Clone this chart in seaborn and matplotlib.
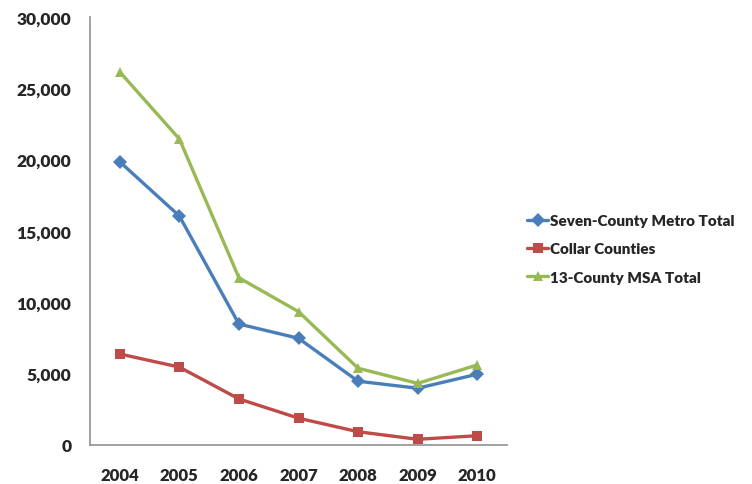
import matplotlib
matplotlib.use("Agg")
import matplotlib.pyplot as plt
import seaborn as sns
import pandas as pd
from matplotlib.ticker import FuncFormatter

years = [2004, 2005, 2006, 2007, 2008, 2009, 2010]
seven_county = [19850, 16050, 8480, 7480, 4470, 3980, 4960]
collar = [6380, 5460, 3230, 1880, 930, 400, 650]
msa_total = [26150, 21450, 11720, 9350, 5380, 4320, 5610]
series_names = ["Seven-County Metro Total", "Collar Counties", "13-County MSA Total"]

df = pd.concat([
    pd.DataFrame({"Year": years, "Value": vals, "Series": name})
    for name, vals in zip(series_names, [seven_county, collar, msa_total])
])

sns.set_theme(style="white")
plt.rcParams["font.family"] = ["Lato", "DejaVu Sans"]

palette = {series_names[0]: "#4A7EBB", series_names[1]: "#BE4B48", series_names[2]: "#98B954"}
markers = {series_names[0]: "D", series_names[1]: "s", series_names[2]: "^"}

fig = plt.figure(figsize=(7.52, 4.85), dpi=100)
ax = fig.add_axes([90 / 752, 39 / 485, 417 / 752, 428 / 485])

sns.lineplot(data=df, x="Year", y="Value", hue="Series", style="Series",
             palette=palette, markers=markers, dashes=False, linewidth=2.4,
             markersize=7, markeredgewidth=0, ax=ax)

ax.set_xlim(2003.5, 2010.5)
ax.set_ylim(0, 30000)
ax.set_xticks(years)
ax.set_yticks(range(0, 30001, 5000))
ax.yaxis.set_major_formatter(FuncFormatter(lambda v, p: f"{int(v):,}"))
ax.set_xlabel("")
ax.set_ylabel("")
ax.tick_params(axis="x", length=0, labelsize=12, pad=16)
ax.tick_params(axis="y", length=0, labelsize=12.5, pad=13.5)
for lbl in ax.get_xticklabels() + ax.get_yticklabels():
    lbl.set_fontweight("heavy")

for side in ["top", "right"]:
    ax.spines[side].set_visible(False)
for side in ["left", "bottom"]:
    ax.spines[side].set_color("#9A9A9A")
    ax.spines[side].set_linewidth(1.3)

leg = ax.legend(loc="center left", bbox_to_anchor=(1.015, 0.458), frameon=False,
                handlelength=1.4, handletextpad=0.1, labelspacing=1.0,
                prop={"weight": "heavy", "size": 11})

fig.savefig("out.png", dpi=100)
